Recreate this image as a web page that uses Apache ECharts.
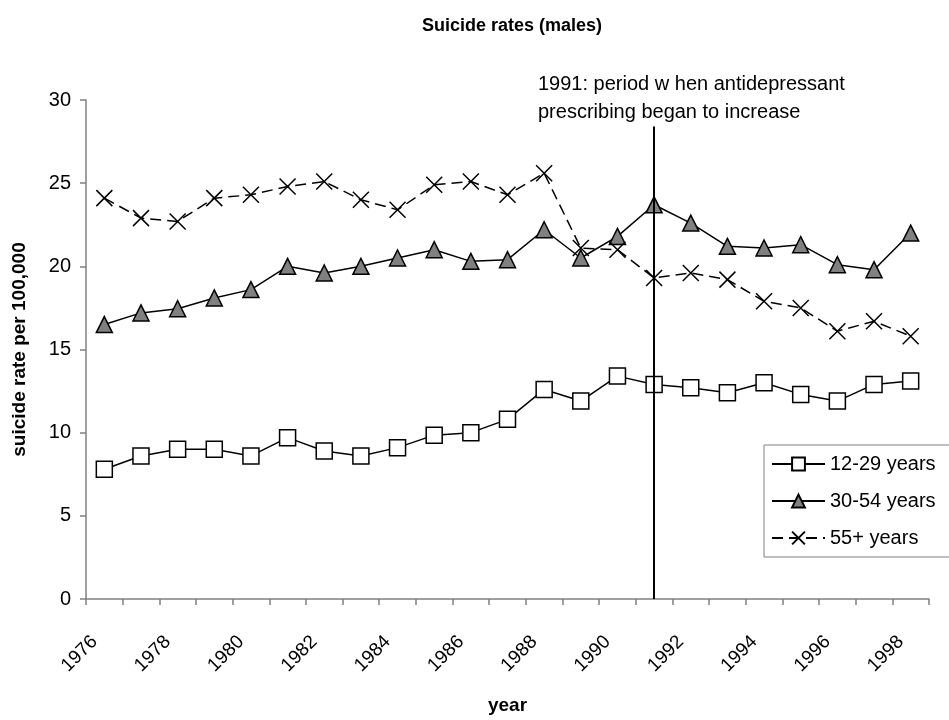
<!DOCTYPE html>
<html>
<head>
<meta charset="utf-8">
<script src="https://cdn.jsdelivr.net/npm/echarts@6/dist/echarts.min.js"></script>
<style>
  html, body { margin: 0; padding: 0; background: #fff; }
  #chart { width: 949px; height: 720px; }
</style>
</head>
<body>
<div id="chart"></div>
<script>
const years = ['1976', '1977', '1978', '1979', '1980', '1981', '1982', '1983', '1984', '1985', '1986', '1987',
  '1988', '1989', '1990', '1991', '1992', '1993', '1994', '1995', '1996', '1997', '1998']
const young = [7.8, 8.6, 9.0, 9.0, 8.6, 9.7, 8.9, 8.6, 9.1, 9.85, 10.0, 10.8, 12.6, 11.9, 13.4, 12.9, 12.7, 12.4, 13.0, 12.3, 11.9, 12.9, 13.1]
const middle = [16.5, 17.2, 17.45, 18.1, 18.6, 20.0, 19.6, 20.0, 20.5, 21.0, 20.3, 20.4, 22.2, 20.5, 21.8, 23.7, 22.6, 21.2, 21.1, 21.3, 20.1, 19.8, 22.0]
const older = [24.1, 22.9, 22.7, 24.1, 24.3, 24.8, 25.1, 24.0, 23.4, 24.9, 25.1, 24.3, 25.6, 21.1, 21.0, 19.3, 19.6, 19.2, 17.9, 17.5, 16.1, 16.7, 15.8]
const seriesNames = ['12-29 years', '30-54 years', '55+ years']
const markerYear = '1991'
const markerTop = 28.4
const noteLines = ['1991: period w hen antidepressant', 'prescribing began to increase']

const font = "'Liberation Sans', Arial, sans-serif"
const axisGray = '#808080'
const crossPath = 'path://M0,0L10,10M10,0L0,10'

const chart = echarts.init(document.getElementById('chart'))

const baseSeries = (name, data, symbol, fill, lineType) => ({
  name,
  type: 'line',
  data,
  symbol,
  symbolSize: 16,
  symbolKeepAspect: true,
  itemStyle: { color: fill, borderColor: '#000', borderWidth: 1.5 },
  lineStyle: { color: '#000', width: 1.5, type: lineType },
  emphasis: { disabled: true },
  animation: false
})

const option = {
  backgroundColor: '#fff',
  animation: false,
  textStyle: { fontFamily: font },
  title: {
    text: 'Suicide rates (males)',
    left: 507,
    textAlign: 'center',
    top: 12,
    textStyle: { fontSize: 18, fontWeight: 'bold', color: '#000', fontFamily: font }
  },
  grid: { left: 86, right: 20, top: 100, bottom: 110, containLabel: false },
  legend: {
    data: seriesNames,
    orient: 'vertical',
    left: 764,
    top: 445,
    itemWidth: 53,
    itemHeight: 16,
    itemGap: 17,
    padding: [9, 24, 9, 7],
    borderColor: axisGray,
    borderWidth: 1,
    backgroundColor: '#fff',
    textStyle: { fontSize: 20, color: '#000', fontFamily: font }
  },
  xAxis: {
    type: 'category',
    data: years,
    boundaryGap: true,
    name: 'year',
    nameLocation: 'middle',
    nameGap: 97,
    nameTextStyle: { fontSize: 19, fontWeight: 'bold', color: '#000', fontFamily: font },
    axisLine: { lineStyle: { color: axisGray, width: 1.5 } },
    axisTick: { show: true, interval: 0, length: 6, lineStyle: { color: axisGray, width: 1.5 } },
    axisLabel: { interval: 1, rotate: 45, margin: 30, padding: [0, 14, 0, 0], fontSize: 19, color: '#000', fontFamily: font },
    splitLine: { show: false }
  },
  yAxis: {
    type: 'value',
    min: 0,
    max: 30,
    interval: 5,
    name: 'suicide rate per 100,000',
    nameLocation: 'middle',
    nameGap: 57,
    nameTextStyle: { fontSize: 19, fontWeight: 'bold', color: '#000', fontFamily: font },
    axisLine: { show: true, lineStyle: { color: axisGray, width: 1.5 } },
    axisTick: { show: true, length: 6, lineStyle: { color: axisGray, width: 1.5 } },
    axisLabel: { margin: 15, fontSize: 20, color: '#000', fontFamily: font },
    splitLine: { show: false }
  },
  graphic: noteLines.map((line, i) => ({
    type: 'text',
    left: 538,
    top: 74 + i * 28,
    style: { text: line, fontSize: 20, fill: '#000', fontFamily: font }
  })),
  series: [
    baseSeries(seriesNames[0], young, 'rect', '#fff', 'solid'),
    Object.assign(baseSeries(seriesNames[1], middle, 'triangle', '#808080', 'solid'), {
      markLine: {
        silent: true,
        symbol: 'none',
        label: { show: false },
        lineStyle: { color: '#000', width: 2, type: 'solid' },
        data: [[{ xAxis: markerYear, yAxis: 0 }, { xAxis: markerYear, yAxis: markerTop }]]
      }
    }),
    baseSeries(seriesNames[2], older, crossPath, 'none', [11, 6])
  ]
}

chart.setOption(option)
</script>
</body>
</html>
